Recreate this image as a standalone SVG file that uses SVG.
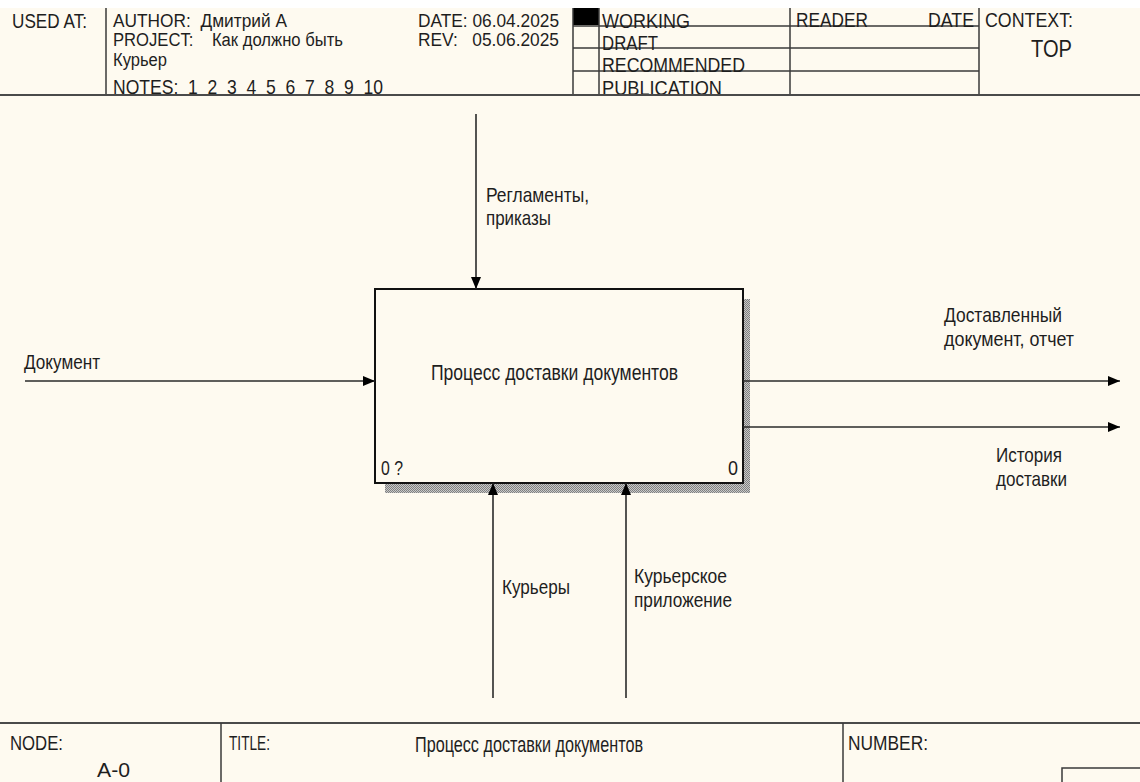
<svg xmlns="http://www.w3.org/2000/svg" width="1140" height="782" viewBox="0 0 1140 782">
<style>
text{font-family:"Liberation Sans",Arial,sans-serif;font-size:21px;fill:#1e1e1e;white-space:pre;}
.t17{font-size:18px;}
.t20{font-size:22px;}
.t22{font-size:24px;}
.fr{stroke:#3a3a3a;stroke-width:1.5;fill:none;}
.conn{stroke:#2a2a2a;stroke-width:1.6;fill:none;marker-end:url(#arr);}
</style>
<defs>
<marker id="arr" markerUnits="userSpaceOnUse" markerWidth="12" markerHeight="10" refX="12" refY="5" orient="auto">
<path d="M0,0 L12,5 L0,10 Z" fill="#000"/>
</marker>
<pattern id="hatch" width="2" height="2" patternUnits="userSpaceOnUse">
<rect width="2" height="2" fill="#c8c8c8"/>
<rect width="1" height="1" fill="#808080"/>
<rect x="1" y="1" width="1" height="1" fill="#808080"/>
</pattern>
</defs>
<rect width="1140" height="782" fill="#ffffff"/>
<rect y="8" width="1140" height="774" fill="#fefaf0"/>
<g id="header">
<line class="fr" x1="106" y1="8" x2="106" y2="95"/>
<rect x="573" y="8" width="26" height="17" fill="#000"/>
<line class="fr" x1="573" y1="8" x2="573" y2="95"/>
<line class="fr" x1="599" y1="8" x2="599" y2="95"/>
<line class="fr" x1="790" y1="8" x2="790" y2="95"/>
<line class="fr" x1="979" y1="8" x2="979" y2="95"/>
<line class="fr" x1="573" y1="26" x2="979" y2="26"/>
<line class="fr" x1="573" y1="48" x2="979" y2="48"/>
<line class="fr" x1="573" y1="71" x2="979" y2="71"/>
<text x="12" y="28" textLength="75" lengthAdjust="spacingAndGlyphs">USED AT:</text>
<text class="t17" x="113" y="27" textLength="174" lengthAdjust="spacingAndGlyphs">AUTHOR:  Дмитрий А</text>
<text class="t17" x="113" y="46" textLength="230" lengthAdjust="spacingAndGlyphs">PROJECT:    Как должно быть</text>
<text class="t17" x="113" y="66" textLength="54" lengthAdjust="spacingAndGlyphs">Курьер</text>
<text x="113" y="94" textLength="270" lengthAdjust="spacingAndGlyphs">NOTES:  1  2  3  4  5  6  7  8  9  10</text>
<text class="t17" x="418" y="27" textLength="141" lengthAdjust="spacingAndGlyphs">DATE: 06.04.2025</text>
<text class="t17" x="418" y="46" textLength="141" lengthAdjust="spacingAndGlyphs">REV:   05.06.2025</text>
<text x="602" y="28" textLength="88" lengthAdjust="spacingAndGlyphs">WORKING</text>
<text x="602" y="50" textLength="56" lengthAdjust="spacingAndGlyphs">DRAFT</text>
<text x="602" y="72" textLength="143" lengthAdjust="spacingAndGlyphs">RECOMMENDED</text>
<text x="602" y="95" textLength="120" lengthAdjust="spacingAndGlyphs">PUBLICATION</text>
<text x="796" y="27" textLength="72" lengthAdjust="spacingAndGlyphs">READER</text>
<text x="928" y="27" textLength="46" lengthAdjust="spacingAndGlyphs">DATE</text>
<text x="985" y="27" textLength="88" lengthAdjust="spacingAndGlyphs">CONTEXT:</text>
<text class="t22" x="1031" y="57" textLength="41" lengthAdjust="spacingAndGlyphs">TOP</text>
<line x1="0" y1="95" x2="1140" y2="95" stroke="#4a4a4a" stroke-width="2"/>
</g>
<g id="node-A0">
<rect x="385" y="299" width="365" height="194" fill="url(#hatch)"/>
<rect x="375" y="289" width="368" height="194" fill="#fefaf0" stroke="#111" stroke-width="2"/>
<text class="t20" x="431" y="380" textLength="247" lengthAdjust="spacingAndGlyphs">Процесс доставки документов</text>
<text x="381" y="475" textLength="22" lengthAdjust="spacingAndGlyphs">0 ?</text>
<text x="738" y="475" text-anchor="end" textLength="10" lengthAdjust="spacingAndGlyphs">0</text>
</g>
<g id="connectors">
<path class="conn" d="M476,114 V289"/>
<path class="conn" d="M25,381 H375"/>
<path class="conn" d="M743,381 H1120"/>
<path class="conn" d="M743,427 H1120"/>
<path class="conn" d="M493,698 V483"/>
<path class="conn" d="M626,698 V483"/>
</g>
<g id="labels">
<text x="486" y="202" textLength="103" lengthAdjust="spacingAndGlyphs">Регламенты,</text>
<text x="486" y="225" textLength="65" lengthAdjust="spacingAndGlyphs">приказы</text>
<text x="24" y="369" textLength="76" lengthAdjust="spacingAndGlyphs">Документ</text>
<text x="944" y="322" textLength="118" lengthAdjust="spacingAndGlyphs">Доставленный</text>
<text x="944" y="346" textLength="130" lengthAdjust="spacingAndGlyphs">документ, отчет</text>
<text x="996" y="462" textLength="66" lengthAdjust="spacingAndGlyphs">История</text>
<text x="996" y="486" textLength="71" lengthAdjust="spacingAndGlyphs">доставки</text>
<text x="502" y="594" textLength="68" lengthAdjust="spacingAndGlyphs">Курьеры</text>
<text x="634" y="583" textLength="93" lengthAdjust="spacingAndGlyphs">Курьерское</text>
<text x="634" y="607" textLength="98" lengthAdjust="spacingAndGlyphs">приложение</text>
</g>
<g id="footer">
<line x1="0" y1="723" x2="1140" y2="723" stroke="#4a4a4a" stroke-width="2"/>
<line class="fr" x1="221" y1="723" x2="221" y2="782"/>
<line class="fr" x1="843" y1="723" x2="843" y2="782"/>
<path class="fr" d="M1062,782 V768 H1140"/>
<text x="10" y="750" textLength="53" lengthAdjust="spacingAndGlyphs">NODE:</text>
<text x="97" y="777" textLength="33" lengthAdjust="spacingAndGlyphs">A-0</text>
<text x="229" y="750" textLength="41" lengthAdjust="spacingAndGlyphs">TITLE:</text>
<text class="t20" x="415" y="752" textLength="228" lengthAdjust="spacingAndGlyphs">Процесс доставки документов</text>
<text x="848" y="750" textLength="80" lengthAdjust="spacingAndGlyphs">NUMBER:</text>
</g>
</svg>
